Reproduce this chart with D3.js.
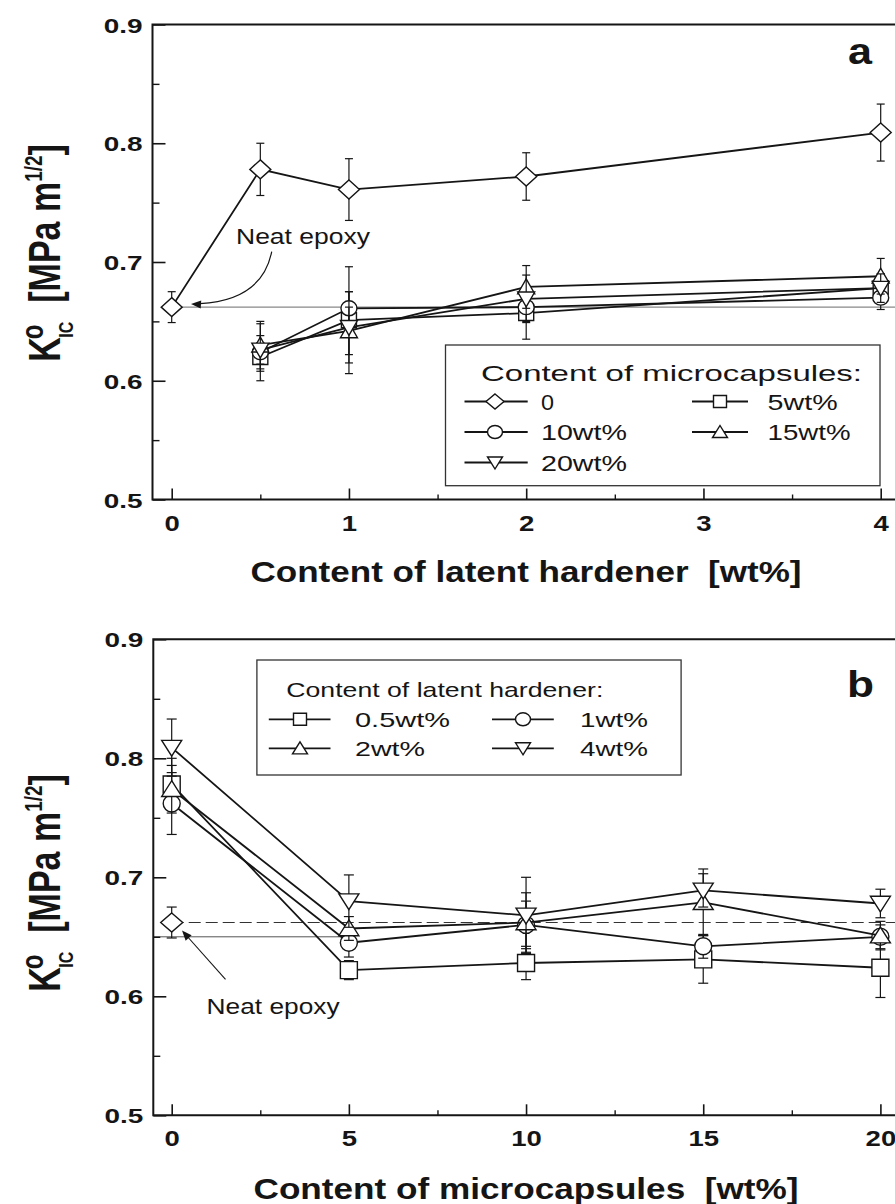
<!DOCTYPE html>
<html><head><meta charset="utf-8">
<script src="https://cdn.jsdelivr.net/npm/d3@7"></script>
<style>
body{margin:0;background:#fff}
svg{display:block;background:#fff}
text{font-family:"Liberation Sans",Arial,Helvetica,sans-serif;fill:#151515}
</style></head><body>
<svg id="c" width="895" height="1204"></svg>
<script>
// ---------------- DATA ----------------
// Panel a: x = content of latent hardener [wt%]
const hardenerX0 = [0, 0.5, 1, 2, 4];
const hardenerX = [0.5, 1, 2, 4];
const mc0Val  = [0.662, 0.778, 0.761, 0.772, 0.809];
const mc0Err  = [0.013, 0.022, 0.026, 0.020, 0.024];
const mc5Val  = [0.620, 0.651, 0.657, 0.678];
const mc5Err  = [0.012, 0.045, 0.022, 0.012];
const mc10Val = [0.624, 0.661, 0.662, 0.670];
const mc10Err = [0.024, 0.014, 0.012, 0.010];
const mc15Val = [0.630, 0.642, 0.679, 0.688];
const mc15Err = [0.020, 0.020, 0.018, 0.015];
const mc20Val = [0.626, 0.645, 0.669, 0.678];
const mc20Err = [0.012, 0.030, 0.020, 0.012];
const legendA = ["0", "5wt%", "10wt%", "15wt%", "20wt%"];

// Panel b: x = content of microcapsules [wt%]
const microX = [0, 5, 10, 15, 20];
const lh05Val = [0.778, 0.622, 0.628, 0.631, 0.624];
const lh05Err = [0.022, 0.008, 0.014, 0.020, 0.025];
const lh1Val  = [0.762, 0.645, 0.660, 0.642, 0.650];
const lh1Err  = [0.026, 0.012, 0.020, 0.010, 0.010];
const lh2Val  = [0.774, 0.657, 0.662, 0.679, 0.651];
const lh2Err  = [0.020, 0.010, 0.025, 0.028, 0.012];
const lh4Val  = [0.809, 0.680, 0.668, 0.689, 0.678];
const lh4Err  = [0.024, 0.022, 0.032, 0.014, 0.012];
const legendB = ["0.5wt%", "1wt%", "2wt%", "4wt%"];

const neatVal = 0.662, neatErr = 0.013;
const neatLowB = 0.650; // short lower guide line in panel b
const neatLowBx = [-0.5, 5];

// ticks
const yTicks = [0.5, 0.6, 0.7, 0.8, 0.9];
const yMinor = [0.55, 0.65, 0.75, 0.85];
const xTicksA = [0, 1, 2, 3, 4];
const xMinorA = [0.5, 1.5, 2.5, 3.5];
const xTicksB = [0, 5, 10, 15, 20];
const xMinorB = [2.5, 7.5, 12.5, 17.5];

// ---------------- DRAW ----------------
const svg = d3.select("#c");
const INK = "#151515";

const xA = d3.scaleLinear().domain([0, 4]).range([171.7, 880.7]);
const yA = d3.scaleLinear().domain([0.5, 0.9]).range([499.5, 24.5]);
const xB = d3.scaleLinear().domain([0, 20]).range([171.7, 880.4]);
const yB = d3.scaleLinear().domain([0.5, 0.9]).range([1115.3, 639.3]);

function stretchText(sel, k) {
  sel.each(function () {
    const w = this.getComputedTextLength();
    d3.select(this).attr("textLength", w * k).attr("lengthAdjust", "spacingAndGlyphs");
  });
}
function txt(g, x, y, s, size, opts = {}) {
  const t = g.append("text").attr("x", x).attr("y", y).text(s)
    .style("font-size", size + "px")
    .style("font-weight", opts.bold ? "bold" : "normal")
    .attr("text-anchor", opts.anchor || "start");
  if (opts.len) t.attr("textLength", opts.len).attr("lengthAdjust", "spacingAndGlyphs");
  return t;
}

function symPath(type, cx, cy, w, h) {
  switch (type) {
    case "diamond": return `M${cx},${cy - h}L${cx + w},${cy}L${cx},${cy + h}L${cx - w},${cy}Z`;
    case "square": return `M${cx - w},${cy - h}H${cx + w}V${cy + h}H${cx - w}Z`;
    case "up": return `M${cx},${cy - h}L${cx + w},${cy + h * 0.85}L${cx - w},${cy + h * 0.85}Z`;
    case "down": return `M${cx},${cy + h}L${cx + w},${cy - h * 0.85}L${cx - w},${cy - h * 0.85}Z`;
    case "circle": return `M${cx - w},${cy}A${w},${h} 0 1,0 ${cx + w},${cy}A${w},${h} 0 1,0 ${cx - w},${cy}Z`;
  }
}
const symSize = {
  a: { diamond: [10.5, 9.5], square: [7.5, 7.5], up: [8.5, 8], down: [8.5, 8], circle: [8, 7.5] },
  b: { diamond: [11, 9.5], square: [8.5, 8.5], up: [10, 8.5], down: [10, 8.5], circle: [8.5, 8.5] },
  leg: { diamond: [9, 7.5], square: [6.5, 6], up: [7.5, 6.5], down: [7.5, 6.5], circle: [7.5, 6.5] }
};

function drawAxes(g, x, y, xt, xm, left, right, xLabY) {
  const bottom = y.range()[0], top = y.range()[1];
  const ax = g.append("g").attr("transform", `translate(0,${bottom})`).attr("color", INK)
    .call(d3.axisBottom(x).tickValues(xt).tickSizeInner(-11).tickSizeOuter(0).tickFormat(d3.format("d")));
  ax.select(".domain").remove();
  ax.selectAll("line").attr("stroke-width", 1.6);
  ax.selectAll("text").attr("y", xLabY).attr("dy", 0).attr("fill", INK)
    .style("font-size", "22px").style("font-weight", "bold").style("font-family", '"Liberation Sans",Arial,sans-serif');
  stretchText(ax.selectAll("text"), 1.25);
  const axm = g.append("g").attr("transform", `translate(0,${bottom})`).attr("color", INK)
    .call(d3.axisBottom(x).tickValues(xm).tickSizeInner(-5).tickSizeOuter(0).tickFormat(""));
  axm.select(".domain").remove();
  axm.selectAll("line").attr("stroke-width", 1.4);
  const ay = g.append("g").attr("transform", `translate(${left},0)`).attr("color", INK)
    .call(d3.axisLeft(y).tickValues(yTicks).tickSizeInner(-13).tickSizeOuter(0).tickPadding(10).tickFormat(d3.format(".1f")));
  ay.select(".domain").remove();
  ay.selectAll("line").attr("stroke-width", 1.6);
  ay.selectAll("text").attr("dy", "0.36em").attr("fill", INK)
    .style("font-size", "21px").style("font-weight", "bold").style("font-family", '"Liberation Sans",Arial,sans-serif');
  stretchText(ay.selectAll("text"), 1.33);
  const aym = g.append("g").attr("transform", `translate(${left},0)`).attr("color", INK)
    .call(d3.axisLeft(y).tickValues(yMinor).tickSizeInner(-7).tickSizeOuter(0).tickFormat(""));
  aym.select(".domain").remove();
  aym.selectAll("line").attr("stroke-width", 1.4);
  g.append("path").attr("d", `M${right},${top}H${left}V${bottom}H${right}`)
    .attr("fill", "none").attr("stroke", INK).attr("stroke-width", 2);
}

function drawSeries(g, x, y, xs, vals, errs, sym, size, capW, drawLine = true) {
  const s = g.append("g");
  xs.forEach((xv, i) => {
    const cx = x(xv);
    s.append("line").attr("x1", cx).attr("x2", cx).attr("y1", y(vals[i] + errs[i])).attr("y2", y(vals[i] - errs[i]))
      .attr("stroke", INK).attr("stroke-width", 1.2);
    [vals[i] + errs[i], vals[i] - errs[i]].forEach(v => {
      s.append("line").attr("x1", cx - capW).attr("x2", cx + capW).attr("y1", y(v)).attr("y2", y(v))
        .attr("stroke", INK).attr("stroke-width", 1.2);
    });
  });
  if (drawLine) {
    s.append("path").datum(xs.map((xv, i) => [xv, vals[i]]))
      .attr("d", d3.line().x(d => x(d[0])).y(d => y(d[1])))
      .attr("fill", "none").attr("stroke", INK).attr("stroke-width", 1.8);
  }
  xs.forEach((xv, i) => {
    s.append("path").attr("d", symPath(sym, x(xv), y(vals[i]), size[sym][0], size[sym][1]))
      .attr("fill", "#fff").attr("stroke", INK).attr("stroke-width", 1.4);
  });
}

function legendItem(g, x1, x2, sx, y, sym, label, tx, len, fs) {
  g.append("line").attr("x1", x1).attr("x2", x2).attr("y1", y).attr("y2", y).attr("stroke", INK).attr("stroke-width", 1.8);
  g.append("path").attr("d", symPath(sym, sx, y, symSize.leg[sym][0], symSize.leg[sym][1]))
    .attr("fill", "#fff").attr("stroke", INK).attr("stroke-width", 1.4);
  txt(g, tx, y + fs * 0.36, label, fs, { len });
}

function yTitle(g, cx, cy) {
  const t = g.append("text").attr("transform", `translate(${cx},${cy}) scale(1.3,1) rotate(-90)`)
    .attr("text-anchor", "middle").style("font-weight", "bold").style("font-size", "34px");
  t.append("tspan").text("K");
  t.append("tspan").attr("dx", -2).attr("dy", -13).style("font-size", "24px").text("o");
  t.append("tspan").attr("dx", -13).attr("dy", 23).style("font-size", "16px").text("IC");
  t.append("tspan").attr("dy", -10).text("\u00a0\u00a0[MPa m");
  t.append("tspan").attr("dy", -14).style("font-size", "19px").text("1/2");
  t.append("tspan").attr("dy", 14).text("]");
}

function arrowHead(g, tipX, tipY, ang) {
  const L = 10, W = 4;
  const bx = tipX - L * Math.cos(ang), by = tipY - L * Math.sin(ang);
  const px = -Math.sin(ang) * W, py = Math.cos(ang) * W;
  g.append("path").attr("d", `M${tipX},${tipY}L${bx + px},${by + py}L${bx - px},${by - py}Z`).attr("fill", INK);
}

// ===== Panel a =====
const ga = svg.append("g");
ga.append("line").attr("x1", xA(0)).attr("x2", 900).attr("y1", yA(neatVal)).attr("y2", yA(neatVal))
  .attr("stroke", "#888").attr("stroke-width", 1.1);
drawAxes(ga, xA, yA, xTicksA, xMinorA, 152.5, 900, 31.5);

drawSeries(ga, xA, yA, hardenerX, mc5Val, mc5Err, "square", symSize.a, 4);
drawSeries(ga, xA, yA, hardenerX, mc10Val, mc10Err, "circle", symSize.a, 4);
drawSeries(ga, xA, yA, hardenerX, mc15Val, mc15Err, "up", symSize.a, 4);
drawSeries(ga, xA, yA, hardenerX, mc20Val, mc20Err, "down", symSize.a, 4);
drawSeries(ga, xA, yA, hardenerX0, mc0Val, mc0Err, "diamond", symSize.a, 4);

ga.append("rect").attr("x", 445.5).attr("y", 345).attr("width", 434.5).attr("height", 140.7)
  .attr("fill", "#fff").attr("stroke", "#333").attr("stroke-width", 1.3);
txt(ga, 481, 380.5, "Content of microcapsules:", 22.5, { len: 381 });
const legA = [
  { x1: 464.5, x2: 527.7, sx: 495, y: 401.5, sym: "diamond", tx: 541, len: 13 },
  { x1: 692, x2: 748, sx: 720, y: 401.5, sym: "square", tx: 767.6, len: 70 },
  { x1: 464.5, x2: 527.7, sx: 495, y: 432, sym: "circle", tx: 541, len: 86 },
  { x1: 692, x2: 748, sx: 720, y: 432, sym: "up", tx: 767.6, len: 83 },
  { x1: 464.5, x2: 527.7, sx: 495, y: 462.5, sym: "down", tx: 541, len: 86 }
];
legA.forEach((d, i) => legendItem(ga, d.x1, d.x2, d.sx, d.y, d.sym, legendA[i], d.tx, d.len, 22.5));

txt(ga, 236, 244, "Neat epoxy", 22.5, { len: 134 });
ga.append("path").attr("d", "M271.7,251.7 Q262,300 200,303.6").attr("fill", "none").attr("stroke", INK).attr("stroke-width", 1.2);
arrowHead(ga, 191, 304, Math.PI + 0.06);
txt(ga, 848, 64, "a", 36, { bold: true, len: 24 });
txt(ga, 526, 582, "Content of latent hardener  [wt%]", 30, { bold: true, anchor: "middle", len: 551 })
  .style("white-space", "pre");
yTitle(ga, 60, 253);

// ===== Panel b =====
const gb = svg.append("g");
gb.append("line").attr("x1", xB(0)).attr("x2", 900).attr("y1", yB(neatVal)).attr("y2", yB(neatVal))
  .attr("stroke", "#333").attr("stroke-width", 1.2).attr("stroke-dasharray", "12,5");
gb.append("line").attr("x1", xB(neatLowBx[0])).attr("x2", xB(neatLowBx[1])).attr("y1", yB(neatLowB)).attr("y2", yB(neatLowB))
  .attr("stroke", "#555").attr("stroke-width", 1);
drawAxes(gb, xB, yB, xTicksB, xMinorB, 153.3, 900, 30.7);

drawSeries(gb, xB, yB, [0], [neatVal], [neatErr], "diamond", symSize.b, 5, false);
drawSeries(gb, xB, yB, microX, lh05Val, lh05Err, "square", symSize.b, 5);
drawSeries(gb, xB, yB, microX, lh1Val, lh1Err, "circle", symSize.b, 5);
drawSeries(gb, xB, yB, microX, lh2Val, lh2Err, "up", symSize.b, 5);
drawSeries(gb, xB, yB, microX, lh4Val, lh4Err, "down", symSize.b, 5);

gb.append("rect").attr("x", 256.9).attr("y", 660).attr("width", 424.2).attr("height", 115)
  .attr("fill", "#fff").attr("stroke", "#333").attr("stroke-width", 1.3);
txt(gb, 286.3, 696.7, "Content of latent hardener:", 21, { len: 317 });
const legB = [
  { x1: 268.8, x2: 330.5, sx: 300, y: 719.3, sym: "square", tx: 355, len: 95 },
  { x1: 492, x2: 553.8, sx: 523, y: 719.3, sym: "circle", tx: 580, len: 68 },
  { x1: 268.8, x2: 330.5, sx: 300, y: 748.3, sym: "up", tx: 355, len: 70 },
  { x1: 492, x2: 553.8, sx: 523, y: 748.3, sym: "down", tx: 580, len: 68 }
];
legB.forEach((d, i) => legendItem(gb, d.x1, d.x2, d.sx, d.y, d.sym, legendB[i], d.tx, d.len, 21));

txt(gb, 206.6, 1014, "Neat epoxy", 22.5, { len: 133 });
gb.append("line").attr("x1", 225.5).attr("y1", 979.4).attr("x2", 186).attr("y2", 935).attr("stroke", INK).attr("stroke-width", 1.1);
arrowHead(gb, 182, 930.5, Math.atan2(930.5 - 979.4, 182 - 225.5));
txt(gb, 847, 697, "b", 36, { bold: true, len: 27 });
txt(gb, 526, 1199, "Content of microcapsules  [wt%]", 30, { bold: true, anchor: "middle", len: 545 })
  .style("white-space", "pre");
yTitle(gb, 60, 883);
</script>
</body></html>
